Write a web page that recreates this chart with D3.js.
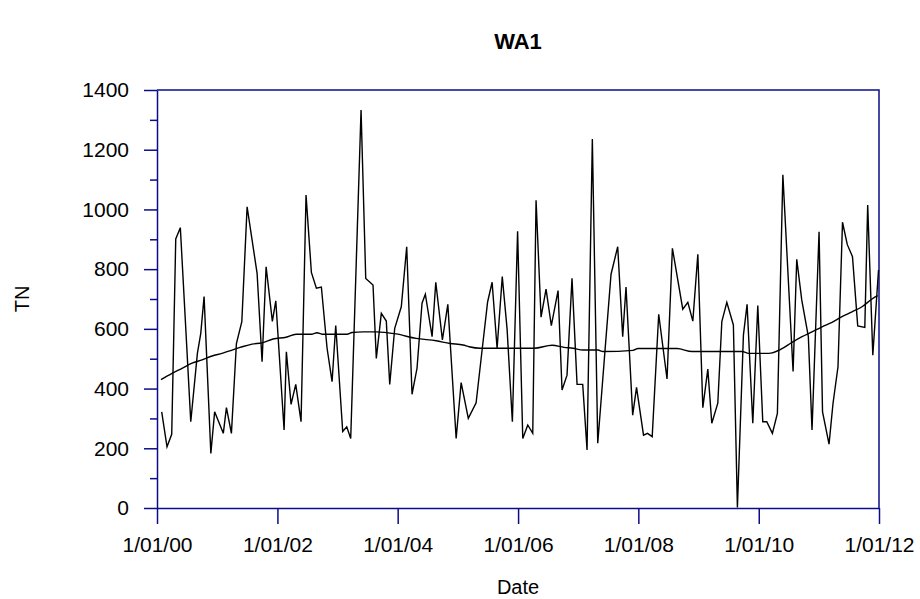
<!DOCTYPE html>
<html>
<head>
<meta charset="utf-8">
<script src="https://cdn.jsdelivr.net/npm/d3@7"></script>
<style>
  body { margin: 0; background: #fff; }
  svg { display: block; font-family: Arial, 'Liberation Sans', sans-serif; }
</style>
</head>
<body>
<div id="chart"></div>
<script>
// sample dates as decimal years
const sampleYears = [
  2000.078, 2000.166, 2000.244, 2000.311, 2000.387, 2000.474, 2000.560, 2000.670, 2000.726, 2000.781,
  2000.893, 2000.956, 2001.100, 2001.152, 2001.235, 2001.318, 2001.408, 2001.496, 2001.579, 2001.662,
  2001.745, 2001.812, 2001.916, 2001.973, 2002.111, 2002.149, 2002.227, 2002.305, 2002.393, 2002.476,
  2002.565, 2002.648, 2002.731, 2002.826, 2002.909, 2002.970, 2003.086, 2003.153, 2003.219, 2003.391,
  2003.469, 2003.590, 2003.645, 2003.728, 2003.811, 2003.868, 2003.951, 2004.060, 2004.150, 2004.238,
  2004.321, 2004.404, 2004.459, 2004.571, 2004.632, 2004.742, 2004.832, 2004.970, 2005.053, 2005.172,
  2005.302, 2005.385, 2005.493, 2005.568, 2005.651, 2005.737, 2005.817, 2005.905, 2005.992, 2006.078,
  2006.161, 2006.244, 2006.299, 2006.382, 2006.465, 2006.553, 2006.665, 2006.731, 2006.814, 2006.897,
  2006.981, 2007.075, 2007.147, 2007.235, 2007.325, 2007.435, 2007.546, 2007.657, 2007.740, 2007.795,
  2007.906, 2007.970, 2008.086, 2008.152, 2008.230, 2008.338, 2008.476, 2008.565, 2008.737, 2008.821,
  2008.904, 2008.987, 2009.070, 2009.153, 2009.219, 2009.319, 2009.386, 2009.469, 2009.578, 2009.645,
  2009.745, 2009.806, 2009.901, 2009.984, 2010.067, 2010.133, 2010.227, 2010.310, 2010.401, 2010.571,
  2010.632, 2010.715, 2010.825, 2010.886, 2011.003, 2011.061, 2011.169, 2011.235, 2011.318, 2011.393,
  2011.473, 2011.559, 2011.646, 2011.764, 2011.812, 2011.897, 2011.992
];
const tnValues = [
  322, 205, 247, 901, 939, 614, 289, 518, 585, 708,
  183, 322, 250, 336, 250, 551, 624, 1009, 897, 786,
  490, 808, 625, 694, 261, 523, 347, 414, 289, 1048,
  789, 736, 740, 535, 423, 611, 256, 272, 233, 1333,
  769, 747, 501, 652, 626, 414, 602, 674, 875, 381,
  468, 686, 716, 574, 756, 563, 682, 233, 420, 300,
  352, 500, 690, 756, 535, 775, 600, 289, 927, 233,
  278, 250, 1031, 639, 733, 611, 728, 395, 445, 769,
  414, 414, 194, 1236, 217, 500, 783, 875, 574, 740,
  311, 404, 244, 250, 239, 649, 432, 870, 666, 689,
  626, 850, 336, 465, 284, 351, 624, 689, 613, 2,
  579, 682, 284, 678, 289, 289, 250, 317, 1116, 457,
  833, 697, 574, 261, 925, 322, 214, 350, 473, 957,
  882, 842, 610, 605, 1015, 512, 797
];

// smoothed trend line
const trendYears = [
  2000.066, 2000.249, 2000.415, 2000.582, 2000.748, 2000.914, 2001.080, 2001.246, 2001.412, 2001.579,
  2001.745, 2001.928, 2002.144, 2002.310, 2002.576, 2002.659, 2002.742, 2003.158, 2003.241, 2003.424,
  2003.640, 2003.973, 2004.305, 2004.638, 2004.870, 2005.086, 2005.186, 2005.369, 2006.267, 2006.565,
  2006.765, 2006.914, 2007.080, 2007.329, 2007.412, 2007.911, 2007.994, 2008.642, 2008.892, 2009.723,
  2009.833, 2010.166, 2010.371, 2010.554, 2010.720, 2010.886, 2011.053, 2011.219, 2011.385, 2011.551,
  2011.717, 2011.884, 2011.978
];
const trendValues = [
  430, 451, 468, 485, 496, 509, 518, 529, 540, 549,
  553, 566, 572, 582, 582, 587, 582, 582, 588, 590,
  590, 583, 568, 560, 551, 546, 540, 535, 535, 545,
  538, 535, 529, 529, 524, 528, 534, 534, 524, 524,
  518, 518, 532, 555, 574, 590, 607, 622, 641, 657,
  674, 700, 711
];

const yMajorTicks = [0, 200, 400, 600, 800, 1000, 1200, 1400];
const yMinorTicks = [100, 300, 500, 700, 900, 1100, 1300];
const xTickYears = [2000, 2002, 2004, 2006, 2008, 2010, 2012];

const chartTitle = 'WA1';
const xTitle = 'Date';
const yTitle = 'TN';

const width = 920, height = 599;
const margin = {top: 90, right: 41, bottom: 91, left: 157};
const innerW = width - margin.left - margin.right;
const innerH = height - margin.top - margin.bottom;
const axisCol = '#0c0c8a';

// decimal year -> Date
function yearToDate(y) {
  var yr = Math.floor(y);
  var start = Date.UTC(yr, 0, 1), end = Date.UTC(yr + 1, 0, 1);
  return new Date(start + (y - yr) * (end - start));
}

const series = sampleYears.map((y, i) => ({date: yearToDate(y), value: tnValues[i]}));
const trend = trendYears.map((y, i) => ({date: yearToDate(y), value: trendValues[i]}));

const x = d3.scaleUtc()
  .domain([yearToDate(2000), yearToDate(2012)])
  .range([0, innerW]);
const y = d3.scaleLinear()
  .domain([0, 1400])
  .range([innerH, 0]);

const svg = d3.select('#chart').append('svg')
  .attr('width', width)
  .attr('height', height);

const g = svg.append('g')
  .attr('transform', 'translate(' + margin.left + ',' + margin.top + ')');

const fmt = d3.utcFormat('%-m/%d/%y');

// x axis
const xAxis = d3.axisBottom(x)
  .tickValues(xTickYears.map(yearToDate))
  .tickFormat(fmt)
  .tickSizeInner(16)
  .tickSizeOuter(0)
  .tickPadding(13);
const gx = g.append('g')
  .attr('transform', 'translate(0,' + innerH + ')')
  .call(xAxis);

// y axis, minor ticks first
g.append('g')
  .call(d3.axisLeft(y).tickValues(yMinorTicks).tickSize(7).tickFormat(''))
  .call(s => s.select('.domain').remove());
const gy = g.append('g')
  .call(d3.axisLeft(y)
    .tickValues(yMajorTicks)
    .tickFormat(d3.format('d'))
    .tickSizeInner(13)
    .tickSizeOuter(0)
    .tickPadding(15));

svg.selectAll('.domain, .tick line')
  .attr('stroke', axisCol)
  .attr('stroke-width', 1.5);
svg.selectAll('.tick text')
  .attr('fill', '#000')
  .attr('font-size', '21px');

// top and right border of the frame
g.append('path')
  .attr('d', 'M0,0H' + innerW + 'V' + innerH)
  .attr('fill', 'none')
  .attr('stroke', axisCol)
  .attr('stroke-width', 1.5);

const line = d3.line()
  .x(d => x(d.date))
  .y(d => y(d.value));

g.append('path')
  .datum(series)
  .attr('d', line)
  .attr('fill', 'none')
  .attr('stroke', '#000')
  .attr('stroke-width', 1.4)
  .attr('stroke-linejoin', 'miter');

g.append('path')
  .datum(trend)
  .attr('d', line.curve(d3.curveMonotoneX))
  .attr('fill', 'none')
  .attr('stroke', '#000')
  .attr('stroke-width', 1.4);

// titles
svg.append('text')
  .attr('x', margin.left + innerW / 2)
  .attr('y', 49)
  .attr('text-anchor', 'middle')
  .attr('font-size', '22px')
  .attr('font-weight', 'bold')
  .text(chartTitle);

svg.append('text')
  .attr('x', margin.left + innerW / 2)
  .attr('y', 594)
  .attr('text-anchor', 'middle')
  .attr('font-size', '20px')
  .text(xTitle);

svg.append('text')
  .attr('transform', 'translate(29,' + (margin.top + innerH / 2) + ') rotate(-90)')
  .attr('text-anchor', 'middle')
  .attr('font-size', '20px')
  .text(yTitle);
</script>
</body>
</html>
